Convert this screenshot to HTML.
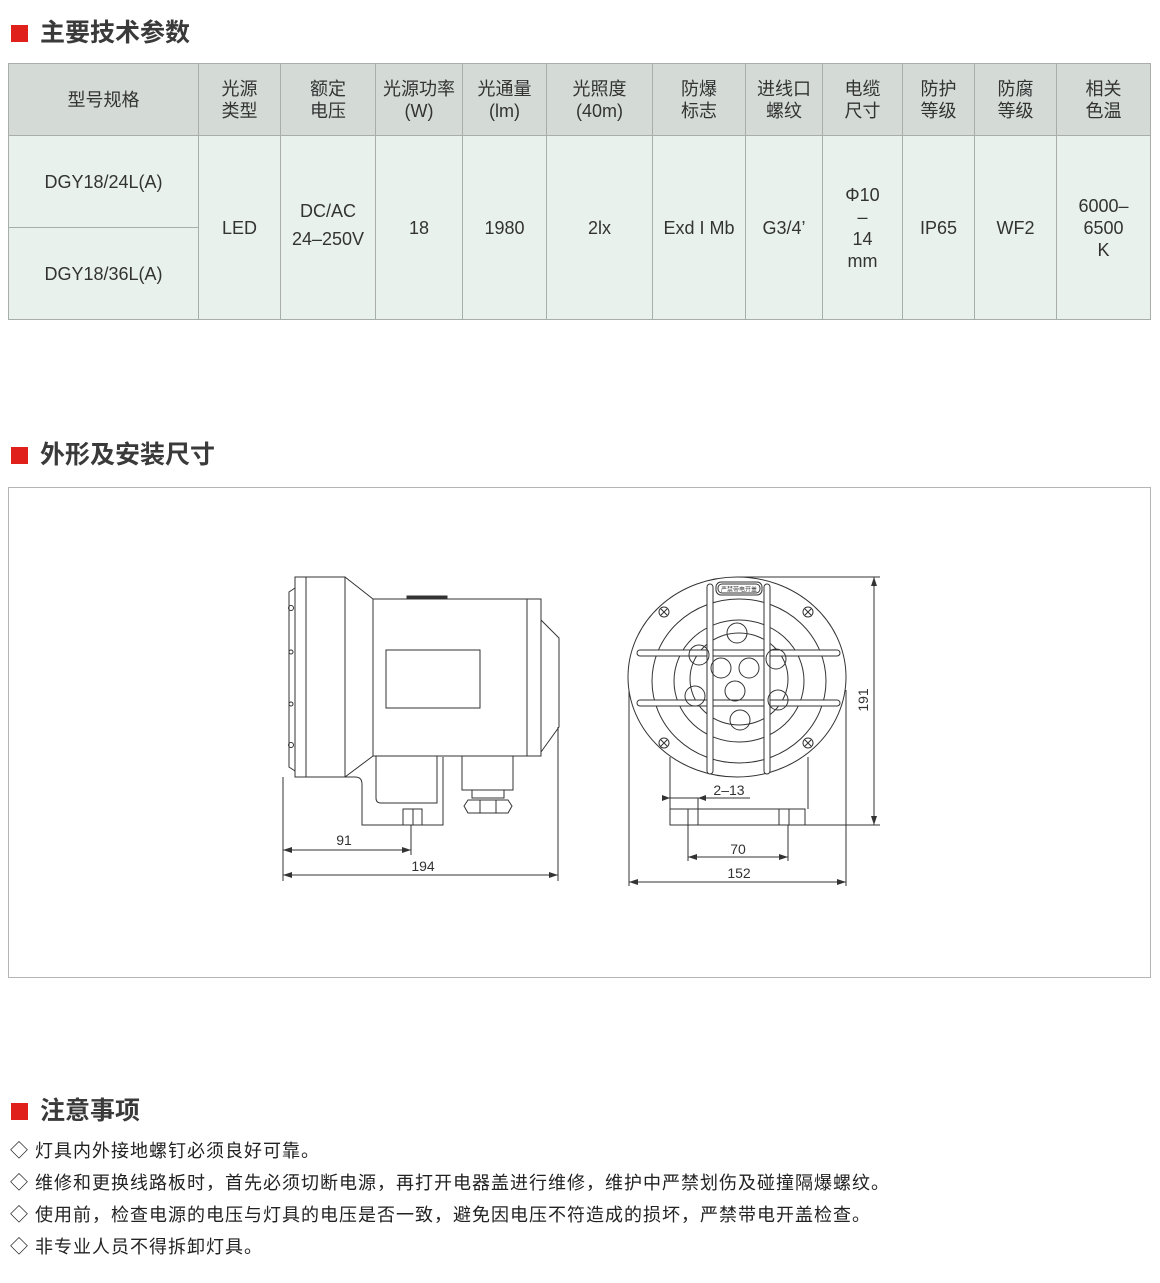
<!DOCTYPE html>
<html><head><meta charset="utf-8">
<style>
html,body{margin:0;padding:0;background:#fff;}
body{width:1160px;height:1283px;position:relative;overflow:hidden;font-family:"Liberation Sans","Noto Sans CJK SC",sans-serif;color:#333;}
.h{position:absolute;left:11px;font-size:25px;color:#3a3a3a;line-height:30px;font-weight:bold;}
.h i{display:inline-block;width:17px;height:17px;background:#e0201b;margin-right:12px;vertical-align:-1px;}
table{position:absolute;left:8px;top:63px;border-collapse:collapse;font-size:18px;color:#333;}
td{border:1px solid #a9aeab;text-align:center;padding:0;line-height:22px;}
tr.hd td{background:#d4dbd7;height:71px;}
tr.b td{background:#e8f1ec;}
.n{position:absolute;left:10px;font-size:18px;letter-spacing:1px;color:#222;line-height:24px;}
.box{position:absolute;left:8px;top:487px;width:1141px;height:489px;border:1px solid #b5b5b5;}
</style></head><body>
<div class="h" style="top:18px"><i></i>主要技术参数</div>
<table>
<tr class="hd">
<td style="width:189px">型号规格</td><td style="width:81px">光源<br>类型</td><td style="width:94px">额定<br>电压</td><td style="width:86px">光源功率<br>(W)</td><td style="width:83px">光通量<br>(lm)</td><td style="width:105px">光照度<br>(40m)</td><td style="width:92px">防爆<br>标志</td><td style="width:76px">进线口<br>螺纹</td><td style="width:79px">电缆<br>尺寸</td><td style="width:71px">防护<br>等级</td><td style="width:81px">防腐<br>等级</td><td style="width:93px">相关<br>色温</td>
</tr>
<tr class="b"><td style="height:91px">DGY18/24L(A)</td><td rowspan="2">LED</td><td rowspan="2">DC/AC<br><span style="line-height:34px">24–250V</span></td><td rowspan="2">18</td><td rowspan="2">1980</td><td rowspan="2">2lx</td><td rowspan="2">Exd I Mb</td><td rowspan="2">G3/4’</td><td rowspan="2">Φ10<br>–<br>14<br>mm</td><td rowspan="2">IP65</td><td rowspan="2">WF2</td><td rowspan="2">6000–<br>6500<br>K</td></tr>
<tr class="b"><td style="height:91px">DGY18/36L(A)</td></tr>
</table>

<div class="h" style="top:440px"><i></i>外形及安装尺寸</div>
<div class="box"></div>
<svg style="position:absolute;left:0;top:0" width="1160" height="1283" fill="none" stroke="#333" stroke-width="1">
<path d="M295 588 L289 592 L289 767 L295 771 Z"/>
<circle cx="291" cy="608" r="2.5"/><circle cx="291" cy="652" r="2"/><circle cx="291" cy="704" r="2"/><circle cx="291" cy="745" r="2.5"/>
<rect x="295" y="577" width="50" height="200"/>
<line x1="306" y1="577" x2="306" y2="777"/>
<path d="M345 577 L373 599 M345 777 L373 756"/>
<rect x="373" y="599" width="168" height="157"/>
<line x1="527" y1="599" x2="527" y2="756"/>
<rect x="407" y="596" width="40" height="3" fill="#333"/>
<rect x="386" y="650" width="94" height="58"/>
<path d="M541 620 L559 638 L559 727 L541 752"/>
<path d="M345 777 L355 777 Q362 777 362 784 L362 825 L443 825 L443 757"/>
<path d="M376 756 L376 798 Q376 803 381 803 L437 803 L437 756"/>
<rect x="403" y="809" width="19" height="16"/><line x1="413" y1="809" x2="413" y2="825"/>
<rect x="462" y="756" width="51" height="34"/>
<rect x="472" y="790" width="32" height="8"/>
<path d="M468 800 L508 800 L512 806 L508 813 L468 813 L464 806 Z"/>
<line x1="480" y1="800" x2="480" y2="813"/><line x1="496" y1="800" x2="496" y2="813"/>
<line x1="283" y1="777" x2="283" y2="881"/><line x1="558" y1="727" x2="558" y2="881"/><line x1="411" y1="825" x2="411" y2="855"/>
<line x1="283" y1="850" x2="411" y2="850"/><line x1="283" y1="875" x2="558" y2="875"/>
<g fill="#333" stroke="none">
<path d="M283 850 l9 -3 v6z M411 850 l-9 -3 v6z M283 875 l9 -3 v6z M558 875 l-9 -3 v6z"/>
</g>
<ellipse cx="737" cy="677" rx="109" ry="100"/>
<ellipse cx="739" cy="681" rx="87" ry="82"/>
<ellipse cx="739" cy="681" rx="65" ry="61"/>
<ellipse cx="739" cy="679" rx="49" ry="46"/>
<g fill="#fff">
<rect x="637" y="650" width="203" height="6" rx="3"/>
<rect x="637" y="700" width="203" height="6" rx="3"/>
<rect x="707" y="584" width="6" height="190" rx="3"/>
<rect x="764" y="584" width="6" height="190" rx="3"/>
<rect x="716" y="582" width="46" height="13" rx="5"/>
</g>
<g>
<circle cx="737" cy="633" r="10"/><circle cx="699" cy="655" r="10"/><circle cx="721" cy="668" r="10"/><circle cx="749" cy="668" r="10"/><circle cx="776" cy="659" r="10"/><circle cx="695" cy="696" r="10"/><circle cx="735" cy="691" r="10"/><circle cx="778" cy="700" r="10"/><circle cx="740" cy="720" r="10"/>
</g>
<rect x="718" y="584" width="42" height="9" rx="4"/>
<text x="739" y="591.5" font-size="6" fill="#333" stroke="none" text-anchor="middle" font-family="Noto Sans CJK SC,sans-serif">严禁带电开盖</text>
<g>
<circle cx="664" cy="612" r="5"/><path d="M661 609 l6 6 M667 609 l-6 6"/>
<circle cx="808" cy="612" r="5"/><path d="M805 609 l6 6 M811 609 l-6 6"/>
<circle cx="664" cy="743" r="5"/><path d="M661 740 l6 6 M667 740 l-6 6"/>
<circle cx="808" cy="743" r="5"/><path d="M805 740 l6 6 M811 740 l-6 6"/>
</g>
<line x1="670" y1="757" x2="670" y2="809"/><line x1="808" y1="757" x2="808" y2="809"/>
<rect x="670" y="809" width="135" height="16"/>
<rect x="688" y="809" width="10" height="16"/><rect x="779" y="809" width="10" height="16"/>
<line x1="663" y1="798" x2="750" y2="798"/>
<line x1="698" y1="798" x2="698" y2="809"/><line x1="670" y1="795" x2="670" y2="809"/>
<line x1="688" y1="825" x2="688" y2="861"/><line x1="788" y1="825" x2="788" y2="861"/>
<line x1="688" y1="857" x2="788" y2="857"/>
<line x1="629" y1="690" x2="629" y2="886"/><line x1="846" y1="690" x2="846" y2="886"/>
<line x1="629" y1="882" x2="846" y2="882"/>
<line x1="737" y1="577" x2="880" y2="577"/><line x1="805" y1="825" x2="880" y2="825"/>
<line x1="874" y1="577" x2="874" y2="825"/>
<g fill="#333" stroke="none">
<path d="M670 798 l-8 -3 v6z M698 798 l8 -3 v6z M688 857 l9 -3 v6z M788 857 l-9 -3 v6z M629 882 l9 -3 v6z M846 882 l-9 -3 v6z M874 577 l-3 9 h6z M874 825 l-3 -9 h6z"/>
</g>
<g fill="#333" stroke="none" font-size="14" font-family="Liberation Sans,sans-serif" text-anchor="middle">
<text x="344" y="845">91</text><text x="423" y="871">194</text>
<text x="729" y="795">2–13</text><text x="738" y="854">70</text><text x="739" y="878">152</text>
<text transform="translate(868,700) rotate(-90)">191</text>
</g>
</svg>

<div class="h" style="top:1096px"><i></i>注意事项</div>
<div class="n" style="top:1139px">◇ 灯具内外接地螺钉必须良好可靠。</div>
<div class="n" style="top:1171px">◇ 维修和更换线路板时，首先必须切断电源，再打开电器盖进行维修，维护中严禁划伤及碰撞隔爆螺纹。</div>
<div class="n" style="top:1203px">◇ 使用前，检查电源的电压与灯具的电压是否一致，避免因电压不符造成的损坏，严禁带电开盖检查。</div>
<div class="n" style="top:1235px">◇ 非专业人员不得拆卸灯具。</div>
</body></html>
